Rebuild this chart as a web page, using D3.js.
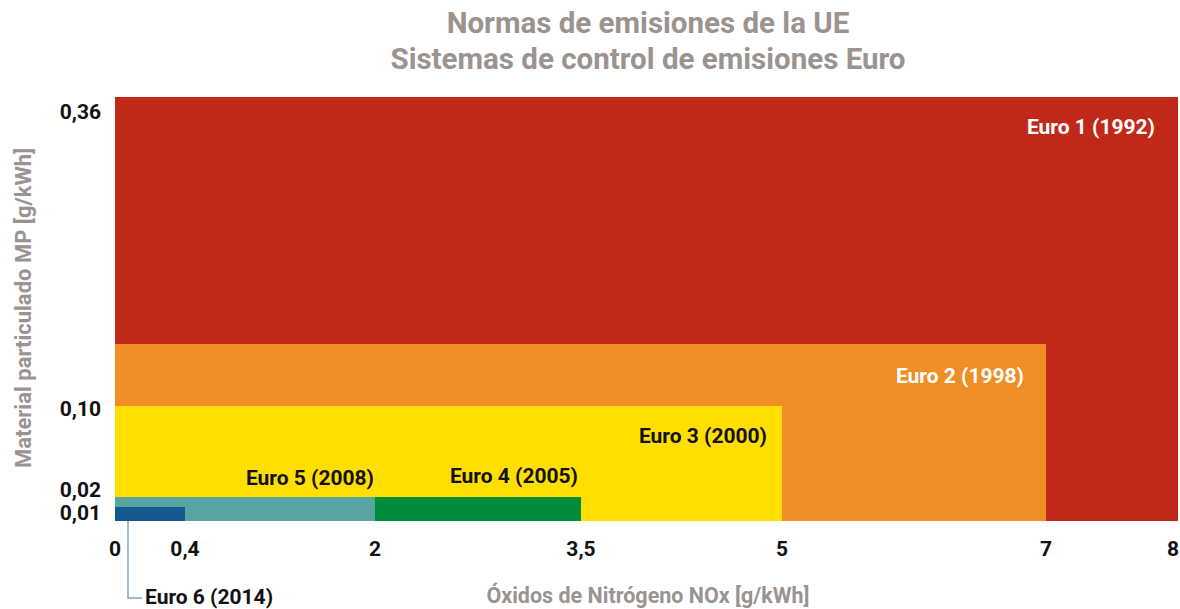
<!DOCTYPE html>
<html>
<head>
<meta charset="utf-8">
<script src="https://cdn.jsdelivr.net/npm/d3@7"></script>
<style>
  body { margin: 0; background: #fff; }
  text { font-family: Roboto, "Liberation Sans", sans-serif; font-weight: 700; }
</style>
</head>
<body>
<svg width="1180" height="609"></svg>
<script>
// Euro norms: NOx limit (x) and PM limit (y), in g/kWh
const norms = ["Euro 1 (1992)", "Euro 2 (1998)", "Euro 3 (2000)", "Euro 4 (2005)", "Euro 5 (2008)", "Euro 6 (2014)"];
const noxLimits = [8, 7, 5, 3.5, 2, 0.4];
const pmLimits = [0.36, 0.15, 0.10, 0.02, 0.02, 0.01];
const normColors = ["#c0291a", "#f18d26", "#ffde00", "#008c3a", "#56a5a0", "#155a8f"];
const labelColors = ["#fff", "#fff", "#111", "#111", "#111", "#111"];

const xTicks = [0, 0.4, 2, 3.5, 5, 7, 8];
const xTickLabels = ["0", "0,4", "2", "3,5", "5", "7", "8"];
const yTicks = [0.36, 0.10, 0.02, 0.01];
const yTickLabels = ["0,36", "0,10", "0,02", "0,01"];

const svg = d3.select("svg");

// uneven axes -> piecewise linear scales
const x = d3.scaleLinear()
    .domain([0, 0.4, 2, 3.5, 5, 7, 8])
    .range([115, 185, 375, 581, 782, 1046, 1178]);
const y = d3.scaleLinear()
    .domain([0, 0.01, 0.02, 0.10, 0.15, 0.36])
    .range([521, 507, 497, 406, 344, 97]);

const rows = norms.map((n, i) => ({ name: n, nox: noxLimits[i], pm: pmLimits[i], color: normColors[i], lc: labelColors[i] }));

svg.append("g").selectAll("rect").data(rows).enter().append("rect")
    .attr("x", x(0))
    .attr("y", d => y(d.pm))
    .attr("width", d => x(d.nox) - x(0))
    .attr("height", d => y(0) - y(d.pm))
    .attr("fill", d => d.color);

// labels inside boxes (right aligned), euro 6 gets a leader line
const labelDy = [31, 33, 31, -20, -18];
const labelPad = [23, 22, 15, 3, 1];
svg.append("g").selectAll("text").data(rows.slice(0, 5)).enter().append("text")
    .attr("x", (d, i) => x(d.nox) - labelPad[i])
    .attr("y", (d, i) => y(d.pm) + labelDy[i])
    .attr("text-anchor", "end")
    .attr("dominant-baseline", "middle")
    .attr("font-size", 21)
    .attr("fill", d => d.lc)
    .text(d => d.name);

const e6 = rows[5];
svg.append("path")
    .attr("d", `M${x(0) + 13},${y(0)} V598 H${x(0) + 27}`)
    .attr("fill", "none")
    .attr("stroke", "#7fa6c4")
    .attr("stroke-width", 1.5);
svg.append("text")
    .attr("x", x(0) + 30)
    .attr("y", 598)
    .attr("dominant-baseline", "middle")
    .attr("font-size", 21)
    .attr("fill", "#111")
    .text(e6.name);

// x axis tick labels
svg.append("g").selectAll("text").data(xTicks).enter().append("text")
    .attr("x", d => Math.min(x(d), 1173))
    .attr("y", 550)
    .attr("text-anchor", "middle")
    .attr("dominant-baseline", "middle")
    .attr("font-size", 21)
    .attr("fill", "#111")
    .text((d, i) => xTickLabels[i]);

// y axis tick labels (spread a bit so the small ones don't collide)
const yNudge = [16, 4, -6, 7];
svg.append("g").selectAll("text").data(yTicks).enter().append("text")
    .attr("x", 101)
    .attr("y", (d, i) => y(d) + yNudge[i])
    .attr("text-anchor", "end")
    .attr("dominant-baseline", "middle")
    .attr("font-size", 21)
    .attr("fill", "#111")
    .text((d, i) => yTickLabels[i]);

// titles
const grey = "#9a9390";
svg.append("text").attr("x", 648).attr("y", 25)
    .attr("text-anchor", "middle").attr("dominant-baseline", "middle")
    .attr("font-size", 29.5).attr("fill", grey)
    .text("Normas de emisiones de la UE");
svg.append("text").attr("x", 648).attr("y", 61)
    .attr("text-anchor", "middle").attr("dominant-baseline", "middle")
    .attr("font-size", 29.5).attr("fill", grey)
    .text("Sistemas de control de emisiones Euro");

svg.append("text").attr("x", 648).attr("y", 597)
    .attr("text-anchor", "middle").attr("dominant-baseline", "middle")
    .attr("font-size", 21.5).attr("fill", grey)
    .text("Óxidos de Nitrógeno NOx [g/kWh]");

svg.append("text")
    .attr("transform", "translate(25,308) rotate(-90)")
    .attr("text-anchor", "middle").attr("dominant-baseline", "middle")
    .attr("font-size", 22).attr("fill", grey)
    .text("Material particulado MP [g/kWh]");
</script>
</body>
</html>
